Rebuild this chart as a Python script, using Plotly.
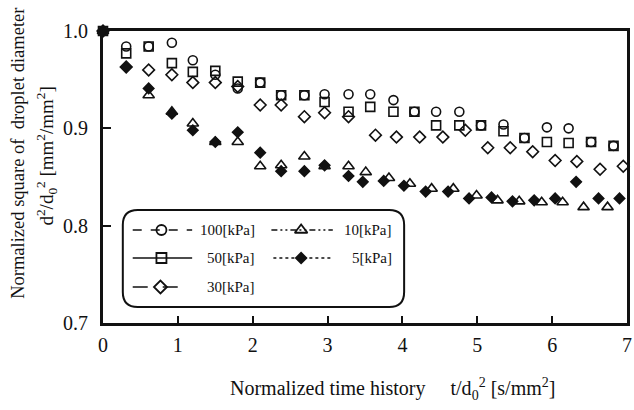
import plotly.graph_objects as go

# ---- data ----
t_100 = [0, 0.31, 0.61, 0.92, 1.20, 1.50, 1.80, 2.10, 2.38, 2.69, 2.96, 3.28, 3.57, 3.88, 4.16, 4.45, 4.76, 5.05, 5.35, 5.63, 5.93, 6.22, 6.52, 6.82]
d_100 = [1.0, 0.984, 0.984, 0.988, 0.970, 0.955, 0.941, 0.947, 0.934, 0.934, 0.935, 0.935, 0.935, 0.929, 0.917, 0.917, 0.917, 0.903, 0.904, 0.890, 0.901, 0.900, 0.886, 0.882]

t_50 = [0, 0.31, 0.61, 0.92, 1.20, 1.50, 1.80, 2.10, 2.38, 2.69, 2.96, 3.28, 3.57, 3.88, 4.16, 4.45, 4.76, 5.05, 5.35, 5.63, 5.93, 6.22, 6.52, 6.82]
d_50 = [1.0, 0.977, 0.984, 0.967, 0.958, 0.959, 0.948, 0.947, 0.934, 0.934, 0.927, 0.917, 0.922, 0.917, 0.917, 0.903, 0.903, 0.903, 0.897, 0.890, 0.886, 0.885, 0.886, 0.882]

t_30 = [0, 0.31, 0.61, 0.92, 1.20, 1.50, 1.80, 2.10, 2.38, 2.69, 2.96, 3.28, 3.64, 3.92, 4.23, 4.54, 4.84, 5.14, 5.44, 5.74, 6.04, 6.33, 6.64, 6.95]
d_30 = [1.0, 0.963, 0.960, 0.955, 0.947, 0.947, 0.943, 0.924, 0.924, 0.912, 0.916, 0.912, 0.893, 0.891, 0.891, 0.891, 0.898, 0.880, 0.880, 0.876, 0.867, 0.866, 0.858, 0.861]

t_10 = [0, 0.61, 0.92, 1.20, 1.50, 1.80, 2.10, 2.38, 2.69, 2.96, 3.28, 3.51, 3.82, 4.10, 4.39, 4.68, 4.99, 5.27, 5.56, 5.86, 6.14, 6.42, 6.74]
d_10 = [1.0, 0.934, 0.917, 0.905, 0.886, 0.886, 0.861, 0.862, 0.871, 0.861, 0.861, 0.855, 0.849, 0.843, 0.838, 0.838, 0.831, 0.826, 0.825, 0.824, 0.824, 0.819, 0.819]

t_5 = [0, 0.31, 0.61, 0.92, 1.20, 1.50, 1.80, 2.10, 2.38, 2.69, 2.96, 3.28, 3.47, 3.75, 4.02, 4.31, 4.61, 4.89, 5.19, 5.47, 5.76, 6.04, 6.32, 6.62, 6.90]
d_5 = [1.0, 0.963, 0.941, 0.915, 0.898, 0.886, 0.896, 0.875, 0.856, 0.856, 0.862, 0.851, 0.845, 0.846, 0.841, 0.835, 0.835, 0.828, 0.829, 0.825, 0.826, 0.828, 0.845, 0.828, 0.828]

series_names = ["100[kPa]", "50[kPa]", "30[kPa]", "10[kPa]", "5[kPa]"]
x_ticks = [0, 1, 2, 3, 4, 5, 6, 7]
y_ticks = [0.7, 0.8, 0.9, 1.0]
y_tick_text = ["0.7", "0.8", "0.9", "1.0"]

# ---- styling ----
FONT = "Liberation Serif"
INK = "#111111"
W, H = 634, 410
L, R, T, B = 103, 632, 31, 323   # plot-area pixel box

series = [
    (t_100, d_100, "circle-open", 9, "dash"),
    (t_50, d_50, "square-open", 9, "solid"),
    (t_30, d_30, "diamond-open", 9, "longdash"),
    (t_10, d_10, "triangle-up-open", 10, "6px,3px,2px,3px,2px,3px"),
    (t_5, d_5, "diamond", 8, "dot"),
]
draw_order = [4, 3, 2, 0, 1]   # squares drawn last (on top at the origin)

fig = go.Figure()
for i in draw_order:
    tx, dy, sym, sz, _ = series[i]
    fig.add_trace(go.Scatter(
        x=tx, y=dy, mode="markers", name=series_names[i], showlegend=False, cliponaxis=False,
        marker=dict(symbol=sym, size=sz, color=INK, line=dict(color=INK, width=1.6)),
    ))

# ---- hand-drawn legend on a pixel-mapped overlay axis ----
rows = [230, 258, 287]
legend_slots = [  # (line x0, x1, marker x, text right x, row y)
    (133, 193, 162, 258, rows[0]),
    (133, 193, 162, 258, rows[1]),
    (133, 193, 161, 258, rows[2]),
    (273, 335, 303, 397, rows[0]),
    (275, 335, 303, 397, rows[1]),
]
shapes = []
annotations = []
bx0, bx1, by0, by1, rr = 123, 407, 210, 307, 15
path = (f"M {bx0+rr},{by0} L {bx1-rr},{by0} Q {bx1},{by0} {bx1},{by0+rr} "
        f"L {bx1},{by1-rr} Q {bx1},{by1} {bx1-rr},{by1} L {bx0+rr},{by1} "
        f"Q {bx0},{by1} {bx0},{by1-rr} L {bx0},{by0+rr} Q {bx0},{by0} {bx0+rr},{by0} Z")
shapes.append(dict(type="path", path=path, xref="x2", yref="y2",
                   line=dict(color=INK, width=2), fillcolor="rgba(255,255,255,0)"))
for (tx, dy, sym, sz, dash), name, (x0, x1, mx, tr, ry) in zip(series, series_names, legend_slots):
    shapes.append(dict(type="line", xref="x2", yref="y2", x0=x0, x1=x1, y0=ry, y1=ry,
                       line=dict(color=INK, width=1.6 if dash != "dot" else 1.3, dash=dash)))
    is_open = "open" in sym
    fig.add_trace(go.Scatter(
        x=[mx], y=[ry], xaxis="x2", yaxis="y2", mode="markers", showlegend=False,
        marker=dict(symbol=sym.replace("-open", ""), size=sz + (1 if is_open else 0),
                    color="white" if is_open else INK,
                    line=dict(color=INK, width=1.8)),
    ))
    annotations.append(dict(xref="x2", yref="y2", x=tr, y=ry, text=name, showarrow=False,
                            xanchor="right", yanchor="middle",
                            font=dict(family=FONT, size=15, color=INK)))

def px2paper(px, py):
    return (px - L) / (R - L), (B - py) / (B - T)

ax1, ay1 = px2paper(17, 153)
ax2, ay2 = px2paper(45, 156)
annotations.append(dict(xref="paper", yref="paper", x=ax1, y=ay1, textangle=-90,
                        text="Normalized square of  droplet diameter", showarrow=False,
                        xanchor="center", yanchor="middle",
                        font=dict(family=FONT, size=18.5, color=INK)))
annotations.append(dict(xref="paper", yref="paper", x=ax2, y=ay2, textangle=-90,
                        text="d<sup>2</sup>/d<sub>0</sub><sup>2</sup> [mm<sup>2</sup>/mm<sup>2</sup>]",
                        showarrow=False, xanchor="center", yanchor="middle",
                        font=dict(family=FONT, size=19, color=INK)))
xx, xy = px2paper(395, 389)
annotations.append(dict(xref="paper", yref="paper", x=xx, y=xy,
                        text="Normalized time history     t/d<sub>0</sub><sup>2</sup> [s/mm<sup>2</sup>]",
                        showarrow=False, xanchor="center", yanchor="middle",
                        font=dict(family=FONT, size=20, color=INK)))

fig.update_layout(
    width=W, height=H,
    margin=dict(l=L, r=W - R, t=T, b=H - B, pad=0),
    paper_bgcolor="white", plot_bgcolor="white",
    font=dict(family=FONT, color=INK),
    showlegend=False,
    xaxis=dict(range=[0, 7], tickvals=x_ticks, ticks="inside", ticklen=7, tickwidth=1.5,
               tickcolor=INK, showline=True, linecolor=INK, linewidth=3, mirror=True,
               showgrid=False, zeroline=False, tickfont=dict(family=FONT, size=20, color=INK),
               ticklabelstandoff=2),
    yaxis=dict(range=[0.7, 1.0], tickvals=y_ticks, ticktext=y_tick_text, ticks="inside",
               ticklen=8, tickwidth=1.5, tickcolor=INK, showline=True, linecolor=INK,
               linewidth=3, mirror=True, showgrid=False, zeroline=False,
               tickfont=dict(family=FONT, size=20, color=INK), ticklabelstandoff=8),
    xaxis2=dict(range=[L, R], overlaying="x", visible=False, anchor="y2"),
    yaxis2=dict(range=[B, T], overlaying="y", visible=False, anchor="x2"),
    shapes=shapes,
    annotations=annotations,
)

fig.write_html("out.html")
